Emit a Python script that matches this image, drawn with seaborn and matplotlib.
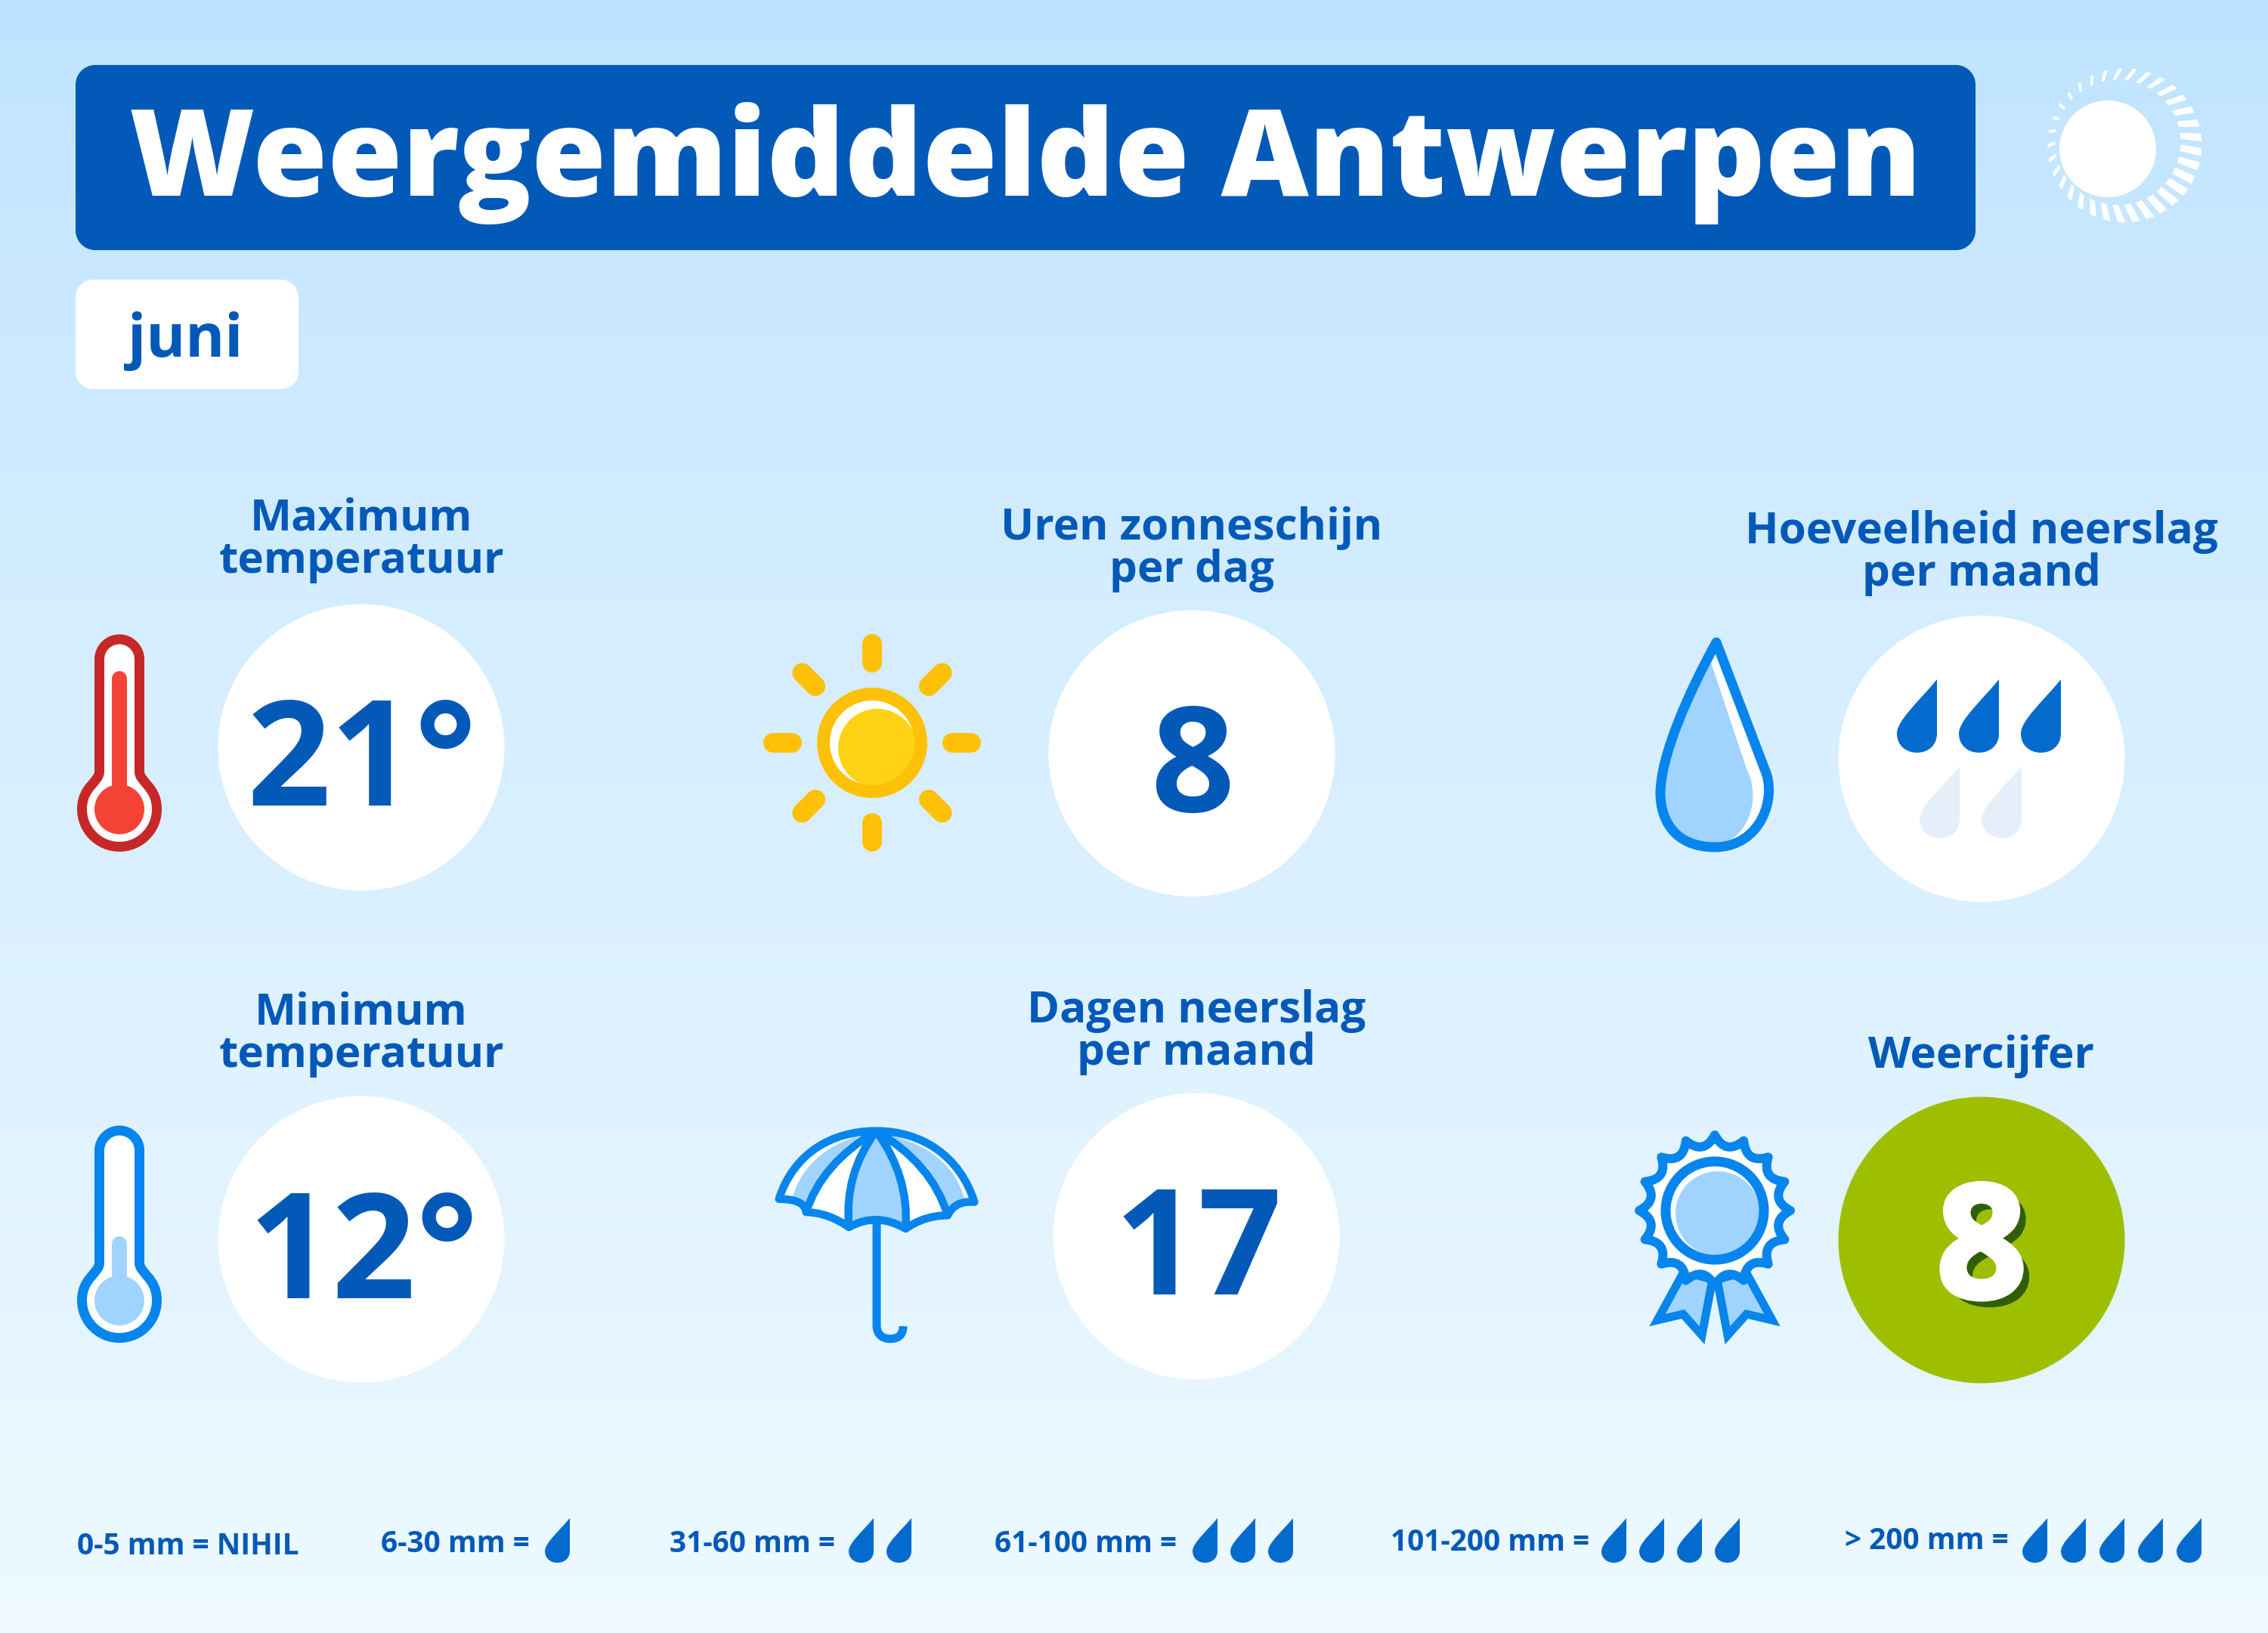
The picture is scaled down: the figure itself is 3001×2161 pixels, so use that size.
import numpy as np
import pandas as pd
import matplotlib
matplotlib.use("Agg")
import matplotlib.pyplot as plt
from matplotlib.path import Path
from matplotlib.patches import PathPatch, FancyBboxPatch, Circle, Polygon
from matplotlib import patheffects as pe
import seaborn as sns

# ---------- content ----------
title_text = "Weergemiddelde Antwerpen"
month_text = "juni"
metric_titles = ["Maximum\ntemperatuur", "Minimum\ntemperatuur", "Uren zonneschijn\nper dag",
                 "Dagen neerslag\nper maand", "Hoeveelheid neerslag\nper maand", "Weercijfer"]
metric_values = ["21°", "12°", "8", "17", "", "8"]
metric_kinds = ["plain", "plain", "plain", "plain", "plain", "grade"]
rain_dark_count = 3
rain_light_count = 2
legend_labels = ["0-5 mm = NIHIL", "6-30 mm =", "31-60 mm =", "61-100 mm =", "101-200 mm =", "> 200 mm ="]
legend_drops = [0, 1, 2, 3, 4, 5]

# ---------- layout (pixels) ----------
W, H = 3001, 2161
tile_x = [478, 478, 1577, 1583, 2622, 2622]
tile_y = [989, 1640, 997, 1636, 1004, 1641]
value_x = [479, 481, 1578, 1586, 2622, 2622]
value_y = [1066, 1718, 1074, 1713, 0, 1717]
label_x = [478, 478, 1577, 1583, 2622, 2621]
label_y = [702, 1356, 714, 1353, 719, 1413]
legend_x = [102, 504, 886, 1316, 1840, 2441]
legend_y = [2057, 2054, 2054, 2054, 2052, 2050]
legend_first_drop = [0, 754, 1156, 1611, 2152, 2709]
legend_step = [0, 50, 50, 50, 50, 51]

BLUE = "#0259B8"
STROKE = "#0685EC"
LIGHT = "#A0D4FE"
DROP = "#036BCE"
px = 0.72  # one pixel in points at dpi 100

sns.set_theme(style="white", font="Open Sans")
fig = plt.figure(figsize=(W / 100, H / 100), dpi=100)
ax = fig.add_axes([0, 0, 1, 1])
ax.axis("off")

# background gradient
stops_y = [0, 100, 800, 1850, 2161]
stops_c = np.array([matplotlib.colors.to_rgb(c) for c in ["#BEE3FF", "#C2E5FF", "#D4EDFF", "#E7F6FF", "#EEFAFF"]])
ys = np.arange(H)
grad = np.stack([np.interp(ys, stops_y, stops_c[:, i]) for i in range(3)], axis=1)[:, None, :]
ax.imshow(grad, extent=[0, W, H, 0], aspect="auto", zorder=0)


def add(path_verts, codes, fc="none", ec="none", lw=0, z=5, **kw):
    p = PathPatch(Path(path_verts, codes), facecolor=fc, edgecolor=ec, linewidth=lw * px, zorder=z, **kw)
    ax.add_patch(p)
    return p


def drop(right, top_y, w, h, color, z=6):
    """Rain drop with a flat right side and the tip at the top right."""
    v = np.array([(1, 0), (1, .74), (1, .90), (.78, 1), (.5, 1), (.22, 1), (0, .90), (0, .74),
                  (0, .56), (.55, .30), (1, 0), (1, 0)])
    c = [Path.MOVETO, Path.LINETO, Path.CURVE4, Path.CURVE4, Path.CURVE4, Path.CURVE4, Path.CURVE4, Path.CURVE4,
         Path.CURVE4, Path.CURVE4, Path.CURVE4, Path.CLOSEPOLY]
    v = v * [w, h] + [right - w, top_y]
    add(v, c, fc=color, z=z)


# title band and month tag
ax.add_patch(FancyBboxPatch((125, 111), 2464, 195, boxstyle="round,pad=0,rounding_size=1", fc=BLUE, ec=BLUE,
                            linewidth=50 * px, joinstyle="round", zorder=2))
ax.add_patch(FancyBboxPatch((122, 392), 251, 101, boxstyle="round,pad=0,rounding_size=1", fc="white", ec="white",
                            linewidth=44 * px, joinstyle="round", zorder=2))
ax.text(171, 259, title_text, color="white", fontsize=115.4, fontweight=800, family="Open Sans", zorder=3)
ax.text(245, 472, month_text, color=BLUE, fontsize=57, fontweight="bold", family="Open Sans", ha="center", zorder=3)

# corner sun
ax.add_patch(Circle((2789, 197), 64, fc="white", ec="none", zorder=3))
ocx, ocy, orr = 2650 + 484 / 3, 60 + 397 / 3, 102
icx, icy, irr = 2650 + 457 / 3, 60 + 385 / 3, 83
for a in np.deg2rad(np.arange(0, 360, 360 / 33) + 5):
    k = (1 + np.cos(a - np.deg2rad(40))) / 2  # 40° points to the lower right on the flipped y axis
    d = 0.022 + 0.034 * k
    corners = [(ocx + orr * np.cos(a - d), ocy + orr * np.sin(a - d)),
               (ocx + orr * np.cos(a + d), ocy + orr * np.sin(a + d)),
               (icx + irr * np.cos(a + d), icy + irr * np.sin(a + d)),
               (icx + irr * np.cos(a - d), icy + irr * np.sin(a - d))]
    ax.add_patch(Polygon(corners, closed=True, fc="white", ec="none", zorder=3))

# value tiles through seaborn
tiles = pd.DataFrame({"x": tile_x, "y": tile_y, "kind": metric_kinds})
sns.scatterplot(data=tiles, x="x", y="y", hue="kind", palette={"plain": "white", "grade": "#9EBE00"},
                s=(379 * px) ** 2, linewidth=0, legend=False, ax=ax, zorder=4)
ax.set_xlabel("")
ax.set_ylabel("")

# labels and values
for s, x, y in zip(metric_titles, label_x, label_y):
    for i, line in enumerate(s.split("\n")):
        ax.text(x, y + 56 * i, line, color=BLUE, fontsize=42, fontweight="bold", family="Open Sans",
                ha="center", va="baseline", zorder=6)
for s, x, y, kind in zip(metric_values, value_x, value_y, metric_kinds):
    if not s:
        continue
    if kind == "grade":
        ax.text(x, y, s, color="white", fontsize=150, fontweight="bold", family="Open Sans", ha="center",
                va="baseline", zorder=7,
                path_effects=[pe.SimplePatchShadow(offset=(11 * px, -11 * px), shadow_rgbFace="#2F5F00", alpha=1.0),
                              pe.Stroke(linewidth=7 * px, foreground="white"), pe.Normal()])
    else:
        ax.text(x, y, s, color=BLUE, fontsize=140, fontweight="bold", family="Open Sans", ha="center",
                va="baseline", zorder=6)

# rain tile drops
for r in [2563, 2645, 2727][:rain_dark_count]:
    drop(r, 899, 53, 97, DROP)
for r in [2593, 2675][:rain_light_count]:
    drop(r, 1014, 53, 95, "#E5EFF9")


# thermometers
def thermo(dy, edge, inner, inner_top):
    cx, bulb_y = 158, 1071 + dy
    yt = 846 + dy
    hw = 26.5
    br = 49.5
    M, L, C4, Z = Path.MOVETO, Path.LINETO, Path.CURVE4, Path.CLOSEPOLY
    k = 0.55 * br
    v = [(cx - hw, yt + hw), (cx - hw, yt + hw * .45), (cx - hw * .55, yt), (cx, yt),
         (cx + hw * .55, yt), (cx + hw, yt + hw * .45), (cx + hw, yt + hw),
         (cx + hw, bulb_y - 50), (cx + hw, bulb_y - 36), (cx + br, bulb_y - 30),
         (cx + br, bulb_y), (cx + br, bulb_y + k), (cx + k, bulb_y + br), (cx, bulb_y + br),
         (cx - k, bulb_y + br), (cx - br, bulb_y + k), (cx - br, bulb_y),
         (cx - br, bulb_y - 30), (cx - hw, bulb_y - 36), (cx - hw, bulb_y - 50), (cx - hw, yt + hw)]
    c = [M, C4, C4, C4, C4, C4, C4, L, C4, C4, C4, C4, C4, C4, C4, C4, C4, C4, C4, C4, Z]
    add(v, c, fc="white", ec=edge, lw=13, z=5, joinstyle="round")
    ax.add_patch(Circle((cx, bulb_y), 33, fc=inner, ec="none", zorder=6))
    ax.plot([cx, cx], [inner_top + 10 + dy, bulb_y - 20], color=inner, lw=20 * px, solid_capstyle="round", zorder=6)


thermo(0, "#C62828", "#F44336", 888)
thermo(650, STROKE, LIGHT, 986)

# sun icon
sx, sy = 1154, 983
ax.add_patch(Circle((sx, sy), 65, fc="white", ec="none", zorder=5))
ax.add_patch(Circle((sx + 7, sy + 7), 52, fc="#FFD314", ec="none", zorder=6))
ax.add_patch(Circle((sx, sy), 64.5, fc="none", ec="#FFC107", lw=17 * px, zorder=7))
for a in np.deg2rad(np.arange(0, 360, 45)):
    ax.plot([sx + 106 * np.cos(a), sx + 131 * np.cos(a)],
            [sy + 106 * np.sin(a), sy + 131 * np.sin(a)], color="#FFC107", lw=26 * px,
            solid_capstyle="round", zorder=6)

# big water drop
M, L, C4, Z = Path.MOVETO, Path.LINETO, Path.CURVE4, Path.CLOSEPOLY
bd = [(2271, 850), (2335, 1018), (2352, 1055), (2330, 1121), (2269, 1121), (2212, 1121), (2197, 1080), (2197, 1050),
      (2197, 1000), (2235, 915), (2271, 850), (2271, 850)]
bc = [M, L, C4, C4, C4, C4, C4, C4, C4, C4, C4, Z]
add(bd, bc, fc="white", z=5)
bf = [(2261, 868), (2312, 1020), (2332, 1060), (2310, 1118), (2265, 1118), (2212, 1118), (2200, 1080), (2200, 1050),
      (2200, 1000), (2235, 915), (2261, 868), (2261, 868)]
add(bf, bc, fc=LIGHT, z=6)
add(bd, bc, ec=STROKE, lw=13, z=7, joinstyle="round")


# umbrella
def um(points):
    return [(1000 + x / 3, 1460 + y / 3) for x, y in points]


Q = Path.CURVE3
canopy = um([(92, 380), (150, 200), (300, 110), (478, 110), (660, 110), (810, 210), (868, 392),
             (790, 385), (762, 445), (670, 445), (595, 498), (480, 430), (370, 492), (290, 435), (200, 432),
             (195, 380), (92, 380), (92, 380)])
cc = [M, C4, C4, C4, C4, C4, C4, Q, Q, Q, Q, Q, Q, Q, Q, Q, Q, Z]
add(canopy, cc, fc="white", z=5)
add(um([(478, 110), (350, 280), (370, 492), (480, 430), (595, 498), (610, 290), (478, 110), (478, 110)]),
    [M, Q, Q, Q, Q, Q, Q, Z], fc=LIGHT, z=6)
add(um([(145, 375), (200, 190), (420, 125), (260, 240), (200, 400), (175, 380), (145, 375), (145, 375)]),
    [M, Q, Q, Q, Q, Q, Q, Z], fc=LIGHT, z=6)
add(um([(830, 385), (780, 190), (530, 125), (700, 240), (765, 410), (790, 385), (830, 385), (830, 385)]),
    [M, Q, Q, Q, Q, Q, Q, Z], fc=LIGHT, z=6)
add(canopy, cc, ec=STROKE, lw=10.5, z=7, joinstyle="round")
for ctrl, end in [((350, 280), (370, 492)), ((610, 290), (595, 498)), ((260, 240), (200, 432)), ((700, 240), (762, 445))]:
    add(um([(478, 110), ctrl, end]), [M, Q, Q], ec=STROKE, lw=10.5, z=7)
add(um([(480, 475), (480, 880), (480, 925), (510, 935), (535, 935), (565, 935), (585, 920), (585, 885)]),
    [M, L, C4, C4, C4, C4, C4, C4], ec=STROKE, lw=11, z=7, capstyle="butt")

# rosette
bx, by = 2269, 1602
for side in (-1, 1):
    ax.add_patch(Polygon([(bx + side * 41, 1683), (bx + side * 76, 1747), (bx + side * 42, 1739),
                          (bx + side * 17, 1767), (bx + side * 3, 1693)],
                         closed=True, fc=LIGHT, ec=STROKE, lw=11 * px, joinstyle="miter", zorder=5))
n = 16
verts, codes = [], []
for i in range(n):
    a0 = -np.pi / 2 + 2 * np.pi * i / n
    a1 = a0 + 2 * np.pi / n
    am = (a0 + a1) / 2
    if i == 0:
        verts.append((bx + 100 * np.cos(a0), by + 100 * np.sin(a0)))
        codes.append(M)
    verts += [(bx + 74 * np.cos(am), by + 74 * np.sin(am)), (bx + 100 * np.cos(a1), by + 100 * np.sin(a1))]
    codes += [Q, Q]
verts.append(verts[0])
codes.append(Z)
add(verts, codes, fc="white", ec=STROKE, lw=12, z=6, joinstyle="round")
ax.add_patch(Circle((bx + 4, by + 4), 56, fc=LIGHT, ec="none", zorder=7))
ax.add_patch(Circle((bx, by), 65, fc="none", ec=STROKE, lw=13 * px, zorder=8))

# bottom key
for s, x, y, n_d, first, step in zip(legend_labels, legend_x, legend_y, legend_drops, legend_first_drop, legend_step):
    ax.text(x, y, s, color=BLUE, fontsize=27.9, fontweight="bold", family="Open Sans", ha="left", va="baseline", zorder=6)
    for i in range(n_d):
        drop(first + step * i, 2009, 33, 59, DROP)

ax.set_xlim(0, W)
ax.set_ylim(H, 0)
fig.savefig("out.png", dpi=100)
